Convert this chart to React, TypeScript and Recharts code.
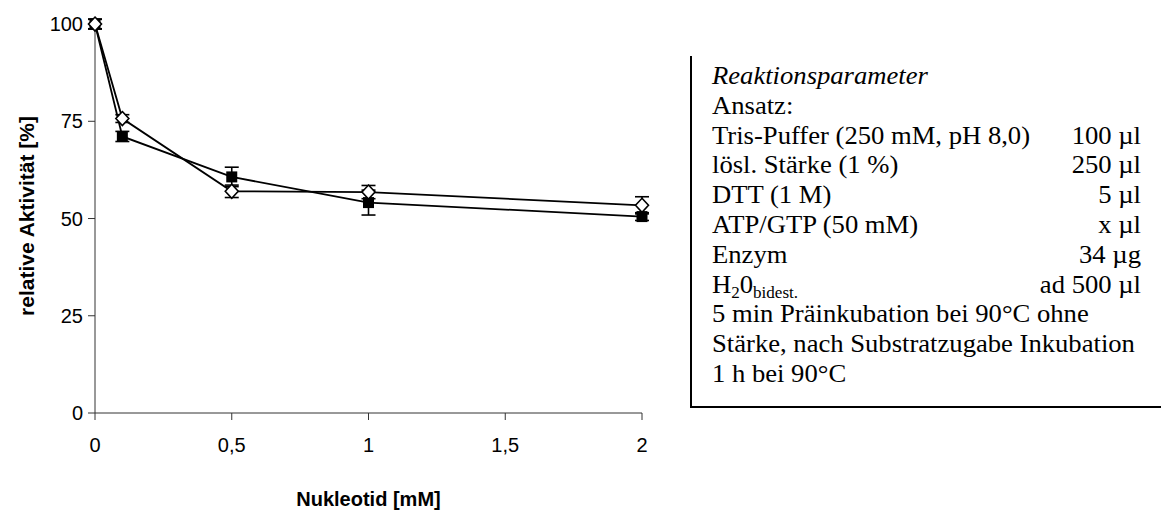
import React from 'react';
import { LineChart, Line, XAxis, YAxis, ErrorBar } from 'recharts';

// Nucleotide concentration (mM) and relative activity (%) of both series
const nucleotideMM = [0, 0.1, 0.5, 1, 2];
const squareActivity = [100, 71.1, 60.7, 54.1, 50.5];
const squareError = [1.3, 1.3, 2.5, 3.2, 1.0];
const diamondActivity = [100, 75.7, 57.0, 56.8, 53.4];
const diamondError = [1.2, 1.0, 1.6, 1.7, 2.2];
const xTicks = [0, 0.5, 1, 1.5, 2];
const yTicks = [0, 25, 50, 75, 100];

// Reaction parameters listed beside the chart
const paramTitle = 'Reaktionsparameter';
const paramHeading = 'Ansatz:';
const subStyle: React.CSSProperties = { fontSize: 16, verticalAlign: -5, lineHeight: 0 };
const paramRows: [React.ReactNode, string][] = [
  ['Tris-Puffer (250 mM, pH 8,0)', '100 µl'],
  ['lösl. Stärke (1 %)', '250 µl'],
  ['DTT (1 M)', '5 µl'],
  ['ATP/GTP (50 mM)', 'x µl'],
  ['Enzym', '34 µg'],
  [
    <span>
      H<sub style={subStyle}>2</sub>0<sub style={subStyle}>bidest.</sub>
    </span>,
    'ad 500 µl',
  ],
];
const paramNotes = [
  '5 min Präinkubation bei 90°C ohne',
  'Stärke, nach Substratzugabe Inkubation',
  '1 h bei 90°C',
];

const SANS = '"Liberation Sans", Arial, sans-serif';
const SERIF = '"Liberation Serif", "Times New Roman", serif';
const BOX_STRETCH = 1.065;

const fmt = (v: number) => String(v).replace('.', ',');

const XTick = (props: any) => {
  const { x, y, payload } = props;
  return (
    <text x={x} y={y} textAnchor="middle" dy="0.71em" fontFamily={SANS} fontSize={20} fill="#000">
      {fmt(payload.value)}
    </text>
  );
};

const YTick = (props: any) => {
  const { x, y, payload } = props;
  return (
    <text x={x} y={y} textAnchor="end" dy="0.355em" fontFamily={SANS} fontSize={20} fill="#000">
      {payload.value}
    </text>
  );
};

const XTitle = (props: any) => {
  const vb = props.viewBox || { x: 87, width: 547, y: 405 };
  const cx = vb.x + vb.width / 2;
  return (
    <text
      x={cx}
      y={491}
      textAnchor="middle"
      dy="0.355em"
      fontFamily={SANS}
      fontWeight="bold"
      fontSize={20}
      fill="#000"
    >
      Nukleotid [mM]
    </text>
  );
};

const YTitle = (props: any) => {
  const vb = props.viewBox || { y: 11, height: 394 };
  const cy = vb.y + vb.height / 2;
  return (
    <text
      transform={`translate(19,${cy}) rotate(-90)`}
      textAnchor="middle"
      dy="0.355em"
      fontFamily={SANS}
      fontWeight="bold"
      fontSize={21}
      fill="#000"
    >
      relative Aktivität [%]
    </text>
  );
};

const SquareDot = (p: any) => (
  <rect key={`sq-${p.index}`} x={p.cx - 5.5} y={p.cy - 5.5} width={11} height={11} fill="#000" />
);

const DiamondDot = (p: any) => (
  <path
    key={`di-${p.index}`}
    d={`M${p.cx},${p.cy - 7} L${p.cx + 6.5},${p.cy} L${p.cx},${p.cy + 7} L${p.cx - 6.5},${p.cy} Z`}
    fill="#fff"
    stroke="#000"
    strokeWidth={1.6}
  />
);

export default function App() {
  const rows = nucleotideMM.map((x, i) => ({
    x,
    sq: squareActivity[i],
    sqErr: squareError[i],
    di: diamondActivity[i],
    diErr: diamondError[i],
  }));

  return (
    <div style={{ position: 'relative', width: 1161, height: 507, background: '#fff', overflow: 'hidden' }}>
      <LineChart width={700} height={507} data={rows} margin={{ top: 11, right: 66, bottom: 72, left: 0 }}>
        <XAxis
          dataKey="x"
          type="number"
          domain={[0, 2]}
          ticks={xTicks}
          height={30}
          stroke="#333"
          tickSize={7}
          tickMargin={18}
          tick={<XTick />}
          label={<XTitle />}
        />
        <YAxis
          type="number"
          domain={[0, 100]}
          ticks={yTicks}
          width={87}
          stroke="#333"
          tickSize={7}
          tickMargin={5}
          tick={<YTick />}
          label={<YTitle />}
        />
        <Line
          dataKey="sq"
          stroke="#000"
          strokeWidth={1.8}
          dot={SquareDot}
          activeDot={false}
          isAnimationActive={false}
        >
          <ErrorBar dataKey="sqErr" direction="y" width={7} stroke="#000" strokeWidth={1.6} />
        </Line>
        <Line
          dataKey="di"
          stroke="#000"
          strokeWidth={1.8}
          dot={DiamondDot}
          activeDot={false}
          isAnimationActive={false}
        >
          <ErrorBar dataKey="diErr" direction="y" width={7} stroke="#000" strokeWidth={1.6} />
        </Line>
      </LineChart>

      <div
        style={{
          position: 'absolute',
          left: 682,
          top: 48,
          width: 479,
          height: 352,
          boxSizing: 'border-box',
          borderLeft: '2px solid #000',
          borderBottom: '2px solid #000',
        }}
      >
        <div
          style={{
            position: 'absolute',
            left: 20,
            top: 5,
            width: 429 / BOX_STRETCH,
            transform: `scaleX(${BOX_STRETCH})`,
            transformOrigin: 'left top',
            fontFamily: SERIF,
            fontSize: 25,
            lineHeight: '29.8px',
            color: '#000',
            whiteSpace: 'nowrap',
          }}
        >
          <div style={{ fontStyle: 'italic' }}>{paramTitle}</div>
          <div>{paramHeading}</div>
          {paramRows.map(([label, amount], i) => (
            <div key={i} style={{ display: 'flex', justifyContent: 'space-between', height: 29.8 }}>
              <span>{label}</span>
              <span>{amount}</span>
            </div>
          ))}
          {paramNotes.map((n, i) => (
            <div key={`n${i}`}>{n}</div>
          ))}
        </div>
      </div>
    </div>
  );
}
